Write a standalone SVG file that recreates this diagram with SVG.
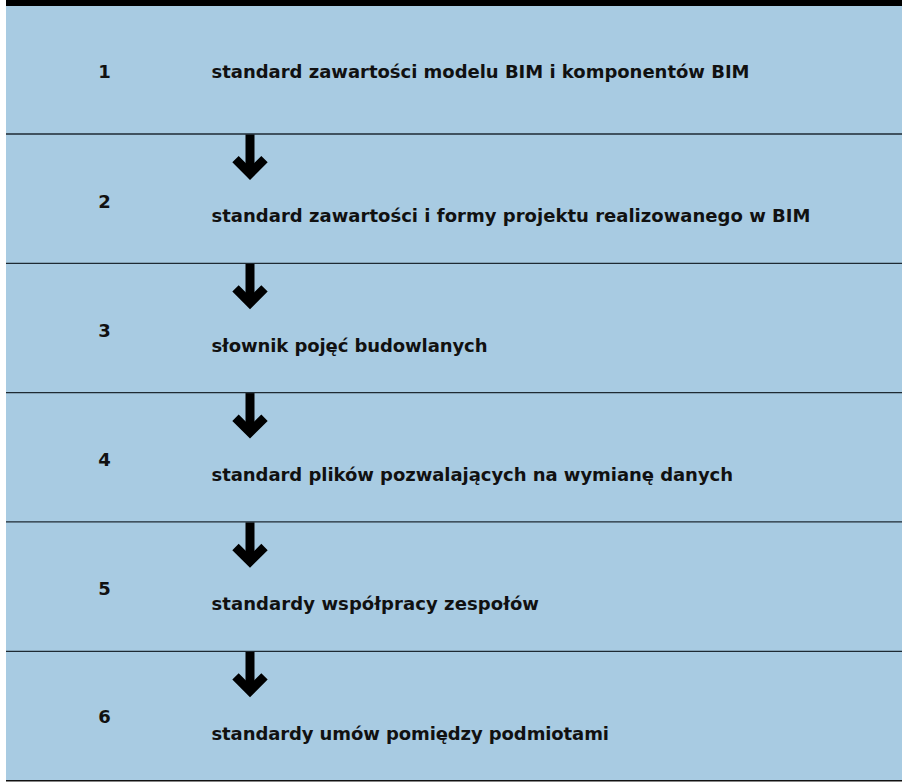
<svg xmlns="http://www.w3.org/2000/svg" width="902" height="782" viewBox="0 0 902 782">
<style>
.num{font-family:"DejaVu Sans","Liberation Sans",sans-serif;font-weight:bold;font-size:18px;fill:#111;text-anchor:middle}
.lbl{font-family:"DejaVu Sans","Liberation Sans",sans-serif;font-weight:bold;font-size:18px;fill:#111}
.sep{stroke:#1e2a33;stroke-width:1.3}
.shaft{fill:#000}
.head{fill:none;stroke:#000;stroke-width:9;stroke-linejoin:miter;stroke-miterlimit:10}
</style>
<defs>
<g id="arrow">
<rect class="shaft" x="245.5" y="0" width="9" height="39"/>
<polyline class="head" points="235.5,24.6 250,39.1 264.5,24.6"/>
</g>
</defs>
<rect x="0" y="0" width="902" height="782" fill="#ffffff"/>
<rect x="6" y="6" width="896" height="774" fill="#a8cbe2"/>
<rect x="6" y="0" width="896" height="6" fill="#000"/>
<g id="separators">
<line class="sep" x1="6" y1="134" x2="902" y2="134"/>
<line class="sep" x1="6" y1="263.3" x2="902" y2="263.3"/>
<line class="sep" x1="6" y1="392.6" x2="902" y2="392.6"/>
<line class="sep" x1="6" y1="521.9" x2="902" y2="521.9"/>
<line class="sep" x1="6" y1="651.3" x2="902" y2="651.3"/>
<line x1="6" y1="780.8" x2="902" y2="780.8" stroke="#111" stroke-width="1.6"/>
</g>
<g id="node1">
<text class="num" x="104.5" y="78">1</text>
<text class="lbl" x="211.5" y="78" textLength="538" lengthAdjust="spacing">standard zawartości modelu BIM i komponentów BIM</text>
</g>
<g id="node2">
<text class="num" x="104.5" y="208">2</text>
<text class="lbl" x="211.5" y="222" textLength="599" lengthAdjust="spacing">standard zawartości i formy projektu realizowanego w BIM</text>
</g>
<g id="node3">
<text class="num" x="104.5" y="337">3</text>
<text class="lbl" x="211.5" y="352" textLength="276" lengthAdjust="spacing">słownik pojęć budowlanych</text>
</g>
<g id="node4">
<text class="num" x="104.5" y="466">4</text>
<text class="lbl" x="211.5" y="481" textLength="521.5" lengthAdjust="spacing">standard plików pozwalających na wymianę danych</text>
</g>
<g id="node5">
<text class="num" x="104.5" y="595">5</text>
<text class="lbl" x="211.5" y="610" textLength="327.5" lengthAdjust="spacing">standardy współpracy zespołów</text>
</g>
<g id="node6">
<text class="num" x="104.5" y="723">6</text>
<text class="lbl" x="211.5" y="740" textLength="397.5" lengthAdjust="spacing">standardy umów pomiędzy podmiotami</text>
</g>
<g id="connectors">
<use href="#arrow" y="134.5"/>
<use href="#arrow" y="263.8"/>
<use href="#arrow" y="393.1"/>
<use href="#arrow" y="522.4"/>
<use href="#arrow" y="651.8"/>
</g>
</svg>
